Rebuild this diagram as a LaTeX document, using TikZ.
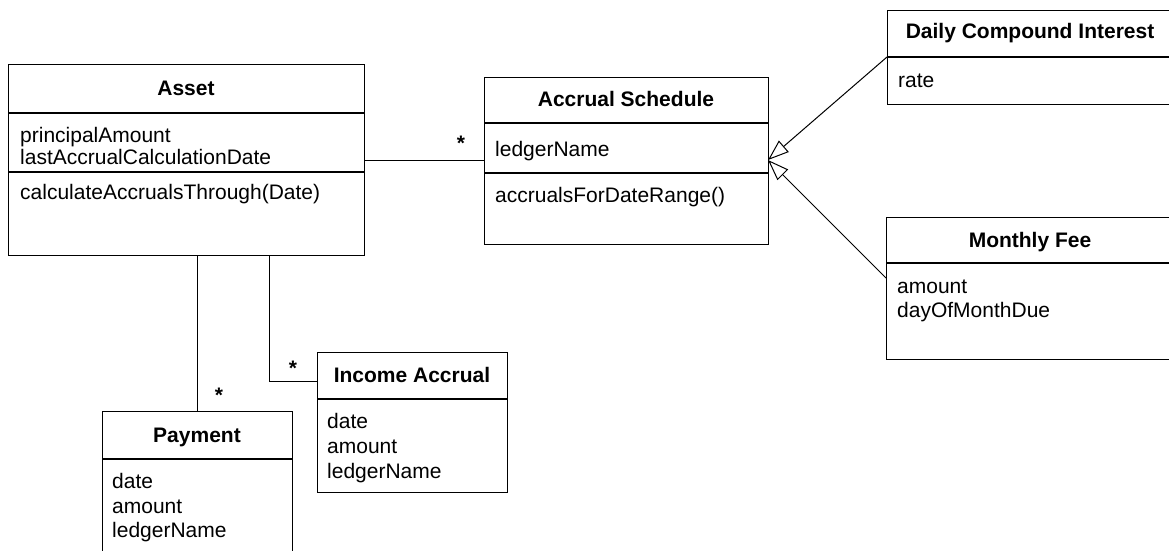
\documentclass[tikz,border=0pt]{standalone}
\usepackage{fontspec}
\setmainfont{Liberation Sans}
\usetikzlibrary{arrows.meta}
\begin{document}
\begin{tikzpicture}[x=1pt,y=-1pt,
  cls/.style={draw, rectangle, anchor=north west, inner sep=0pt, line width=1.1pt},
  divider/.style={line width=1.1pt},
  conn/.style={line width=1pt},
  hdr/.style={font=\fontsize{21}{23}\selectfont\bfseries, anchor=base, inner sep=0pt},
  attr/.style={font=\fontsize{21}{23}\selectfont, anchor=base west, inner sep=0pt},
  mult/.style={font=\fontsize{21}{23}\selectfont\bfseries, inner sep=0pt},
  gen/.style={conn, -{Triangle[open,length=21pt,width=15pt,line width=1pt]}}]
\useasboundingbox (0,0) rectangle (1169,551);
\clip (0,0) rectangle (1169,551);

% ---------- Asset ----------
\node[cls, minimum width=356pt, minimum height=191pt] (asset) at (8,64) {};
\draw[divider] (8,113) -- (364,113);
\draw[divider] (8,172) -- (364,172);
\node[hdr] (assetH) at (186,95) {Asset};
\node[attr] (assetA1) at (20,142) {principalAmount};
\node[attr] (assetA2) at (20,164) {lastAccrualCalculationDate};
\node[attr] (assetO1) at (20,199) {calculateAccrualsThrough(Date)};

% ---------- Accrual Schedule ----------
\node[cls, minimum width=284pt, minimum height=167pt] (sched) at (484,77) {};
\draw[divider] (484,123) -- (768,123);
\draw[divider] (484,173) -- (768,173);
\node[hdr] (schedH) at (626,106) {Accrual Schedule};
\node[attr] (schedA1) at (495,156) {ledgerName};
\node[attr] (schedO1) at (495,202) {accrualsForDateRange()};

% ---------- Daily Compound Interest ----------
\node[cls, minimum width=287pt, minimum height=94pt] (dci) at (887,10) {};
\draw[divider] (887,57) -- (1174,57);
\node[hdr] (dciH) at (1030,38) {Daily Compound Interest};
\node[attr] (dciA1) at (898,87) {rate};

% ---------- Monthly Fee ----------
\node[cls, minimum width=288pt, minimum height=142pt] (mf) at (886,217) {};
\draw[divider] (886,263) -- (1174,263);
\node[hdr] (mfH) at (1030,247) {Monthly Fee};
\node[attr] (mfA1) at (897,293) {amount};
\node[attr] (mfA2) at (897,317) {dayOfMonthDue};

% ---------- Payment ----------
\node[cls, minimum width=190pt, minimum height=160pt] (pay) at (102,411) {};
\draw[divider] (102,459) -- (292,459);
\node[hdr] (payH) at (197,442) {Payment};
\node[attr] (payA1) at (112,488) {date};
\node[attr] (payA2) at (112,513) {amount};
\node[attr] (payA3) at (112,537) {ledgerName};

% ---------- Income Accrual ----------
\node[cls, minimum width=190pt, minimum height=140pt] (inc) at (317,352) {};
\draw[divider] (317,399) -- (507,399);
\node[hdr] (incH) at (412,382) {Income Accrual};
\node[attr] (incA1) at (327,428) {date};
\node[attr] (incA2) at (327,453) {amount};
\node[attr] (incA3) at (327,478) {ledgerName};

% ---------- connectors ----------
\coordinate (lk) at (420,160);
\draw[conn] (asset.east |- lk) -- (sched.west |- lk);
\node[mult] (m1) at (461,143) {*};

\coordinate (ia) at (269,381);
\draw[conn] (asset.south -| ia) -- (ia) -- (ia -| inc.west);
\node[mult] (m2) at (293,368) {*};

\draw[conn] (asset.south -| pay.north) -- (pay.north);
\node[mult] (m3) at (219,395) {*};

\coordinate (gtip) at (768,160);
\coordinate (dcil) at (887,57);
\coordinate (mfl) at (886,278);
\draw[gen] (dcil) -- (gtip);
\draw[gen] (mfl) -- (gtip);
\end{tikzpicture}
\end{document}
